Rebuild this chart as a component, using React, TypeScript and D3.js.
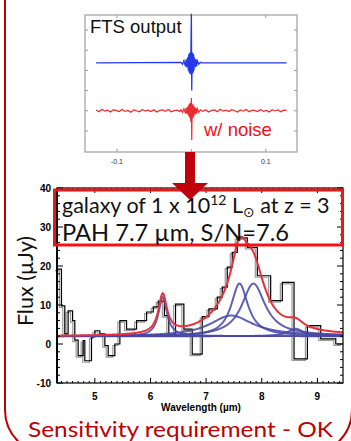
import React, { useEffect, useRef } from 'react';
import * as d3 from 'd3';

// top panel: FTS interferogram
const ftsSpan = [-0.128, 0.128];
const ftsTicks = [-0.1, 0, 0.1];
const ftsLevels = [0, 1, 2, 3, 4, 5];
const blueLevel = 3.37;
const redLevel = 1.0;
const burstX = [-0.014, -0.012, -0.01, -0.008, -0.007, -0.006, -0.005, -0.004, -0.0035, -0.003, -0.0025, -0.002, -0.0015, -0.001, -0.0005, 0, 0.0005, 0.001, 0.0015, 0.002, 0.0025, 0.003, 0.0035, 0.004, 0.005, 0.006, 0.007, 0.008, 0.01, 0.012, 0.014];
const blueBurst = [3.4, 3.3, 3.48, 3.2, 3.55, 3.15, 3.65, 3.0, 3.8, 2.9, 3.85, 2.85, 3.9, 2.8, 4.3, 5.8, 2.0, 3.9, 2.85, 3.85, 2.9, 3.8, 3.0, 3.65, 3.15, 3.55, 3.2, 3.48, 3.3, 3.4, 3.37];
const redBurst = [1.05, 0.92, 1.1, 0.88, 1.15, 0.84, 1.2, 0.78, 1.3, 0.7, 1.35, 0.65, 1.4, 0.6, 0.45, 1.63, -0.45, 1.35, 0.62, 1.3, 0.68, 1.25, 0.75, 1.2, 0.82, 1.15, 0.86, 1.1, 0.92, 1.05, 1.0];
const leftNoise = [0.04, -0.05, 0.07, -0.02, 0.03, -0.06, 0.05, 0.01, -0.04, 0.06, -0.03, 0.02, -0.07, 0.04, 0.0, -0.05, 0.06, -0.02, 0.03, -0.04, 0.05, -0.06, 0.02, 0.04, -0.03, 0.06, -0.05, 0.01, 0.03, -0.04];
const rightNoise = [-0.03, 0.05, -0.06, 0.02, 0.04, -0.05, 0.07, -0.02, 0.03, -0.04, 0.05, 0.0, -0.06, 0.04, -0.02, 0.06, -0.05, 0.03, 0.01, -0.04, 0.06, -0.03, 0.02, -0.06, 0.05, -0.01, 0.04, -0.05, 0.03, 0.02];

// bottom panel: simulated spectrum
const binEdges = [4.32, 4.40, 4.46, 4.52, 4.60, 4.64, 4.70, 4.79, 4.82, 4.94, 5.00, 5.09, 5.18, 5.24, 5.36, 5.45, 5.57, 5.75, 5.93, 6.05, 6.14, 6.25, 6.33, 6.45, 6.60, 6.75, 6.93, 7.05, 7.20, 7.29, 7.38, 7.47, 7.56, 7.74, 7.92, 8.16, 8.37, 8.58, 8.82, 9.06, 9.33, 9.46];
const binFlux = [19.2, 9.8, 2.6, 8.5, 6.0, 1.0, -3.0, 0.9, -4.3, 1.8, 3.4, 2.6, -0.4, -3.0, 0.0, 6.0, 3.8, 6.0, 8.2, 9.5, 11.0, 7.3, 2.5, 10.2, 3.8, -2.6, 7.0, 9.0, 12.0, 14.6, 19.7, 23.5, 27.2, 24.8, 17.5, 11.1, 15.8, -3.8, 4.7, 1.3, 0.0];
const pahCenter = [6.22, 7.45, 7.60, 7.85, 8.61];
const pahPeak = [10.0, 5.3, 13.5, 13.5, 1.9];
const pahFrac = [0.03, 0.126, 0.048, 0.065, 0.039];
const continuum = 2.0;
const fluxTicks = [-10, 0, 10, 20, 30, 40];
const waveTicks = [5, 6, 7, 8, 9];

const drude = (l: number, i: number) => {
  const c = pahCenter[i], g = pahFrac[i];
  const d = l / c - c / l;
  return pahPeak[i] * g * g / (d * d + g * g);
};

export default function App() {
  const ref = useRef<SVGSVGElement>(null);

  useEffect(() => {
    const svg = d3.select(ref.current);
    svg.selectAll('*').remove();
    const darkRed = '#c00000';

    // outer slide frame
    svg.append('rect').attr('x', 5).attr('y', -60).attr('width', 347).attr('height', 514)
      .attr('rx', 44).attr('fill', 'none').attr('stroke', darkRed).attr('stroke-width', 2);

    // ---- FTS panel
    const xF = d3.scaleLinear().domain([-0.143, 0.142]).range([85, 297]);
    const yF = d3.scaleLinear().domain([-1.04, 5.74]).range([152, 15]);
    const top = svg.append('g');
    top.append('rect').attr('x', 85).attr('y', 15).attr('width', 212).attr('height', 137)
      .attr('fill', '#fff').attr('stroke', '#a0a0a0').attr('stroke-width', 1.2);
    ftsLevels.forEach(v => {
      top.append('line').attr('x1', 85).attr('x2', 88).attr('y1', yF(v)).attr('y2', yF(v)).attr('stroke', '#999');
      top.append('line').attr('x1', 294).attr('x2', 297).attr('y1', yF(v)).attr('y2', yF(v)).attr('stroke', '#999');
    });
    ftsTicks.forEach(v => {
      top.append('line').attr('x1', xF(v)).attr('x2', xF(v)).attr('y1', 152).attr('y2', 149).attr('stroke', '#999');
      top.append('line').attr('x1', xF(v)).attr('x2', xF(v)).attr('y1', 15).attr('y2', 18).attr('stroke', '#999');
      top.append('text').attr('x', xF(v)).attr('y', 164).attr('text-anchor', 'middle')
        .style('font', '7px "Liberation Sans", Arial, sans-serif').attr('fill', '#333').text(String(v));
    });
    const fLine = d3.line<[number, number]>().x(d => xF(d[0])).y(d => yF(d[1]));
    const blue: [number, number][] = [[ftsSpan[0], blueLevel], ...burstX.map((x, i) => [x, blueBurst[i]] as [number, number]), [ftsSpan[1], blueLevel]];
    const wing = (arr: number[], a: number, b: number) =>
      arr.map((n, i) => [a + (b - a) * i / (arr.length - 1), redLevel + n] as [number, number]);
    const red: [number, number][] = [...wing(leftNoise, ftsSpan[0], -0.0155), ...burstX.map((x, i) => [x, redBurst[i]] as [number, number]), ...wing(rightNoise, 0.0155, ftsSpan[1])];
    top.append('path').attr('d', fLine(blue)).attr('fill', 'none').attr('stroke', '#2438f0').attr('stroke-width', 1.3);
    top.append('path').attr('d', fLine(red)).attr('fill', 'none').attr('stroke', '#ee2a2a').attr('stroke-width', 1.2);
    top.append('text').attr('x', 90).attr('y', 33).style('font', '18.5px "Liberation Sans", Arial, sans-serif')
      .attr('fill', '#111').text('FTS output');
    top.append('text').attr('x', 204).attr('y', 136).style('font', '18.5px "Liberation Sans", Arial, sans-serif')
      .attr('fill', '#f01010').text('w/ noise');

    // ---- spectrum panel
    const x = d3.scaleLinear().domain([4.32, 9.46]).range([57, 343]);
    const y = d3.scaleLinear().domain([-10, 40]).range([383, 188]);
    const g = svg.append('g');

    const steps: [number, number][] = binFlux.map((v, i) => [binEdges[i], v] as [number, number]);
    steps.push([binEdges[binEdges.length - 1], binFlux[binFlux.length - 1]]);
    const stepLine = d3.line<[number, number]>().x(d => x(d[0])).y(d => y(d[1])).curve(d3.curveStepAfter);
    g.append('path').attr('d', stepLine(steps)).attr('fill', 'none').attr('stroke', '#9a9a9a')
      .attr('stroke-width', 1.2).attr('transform', 'translate(-2,1.5)');
    g.append('path').attr('d', stepLine(steps)).attr('fill', 'none').attr('stroke', '#000').attr('stroke-width', 1.2);

    const grid = d3.range(4.32, 9.465, 0.01);
    const cLine = d3.line<number>().x(l => x(l)).y(() => y(continuum));
    g.append('path').attr('d', cLine(grid)).attr('fill', 'none').attr('stroke', '#7468b0').attr('stroke-width', 1.4);
    pahCenter.forEach((_, i) => {
      const comp = d3.line<number>().x(l => x(l)).y(l => y(continuum + drude(l, i)));
      g.append('path').attr('d', comp(grid)).attr('fill', 'none').attr('stroke', '#4646a6')
        .attr('stroke-width', 2).attr('stroke-opacity', 0.85);
    });
    const total = d3.line<number>().x(l => x(l))
      .y(l => y(continuum + pahCenter.reduce((s, _, i) => s + drude(l, i), 0)));
    g.append('path').attr('d', total(grid)).attr('fill', 'none').attr('stroke', '#e8303c').attr('stroke-width', 2);

    // frame + ticks
    g.append('rect').attr('x', 57).attr('y', 188).attr('width', 286).attr('height', 195)
      .attr('fill', 'none').attr('stroke', '#000').attr('stroke-width', 1.2);
    g.append('line').attr('x1', 57).attr('x2', 57).attr('y1', 188).attr('y2', 383).attr('stroke', '#000').attr('stroke-width', 2);
    d3.range(-10, 40.1, 2).forEach(v => {
      const len = v % 10 === 0 ? 6 : 3;
      g.append('line').attr('x1', 57).attr('x2', 57 + len).attr('y1', y(v)).attr('y2', y(v)).attr('stroke', '#000');
      g.append('line').attr('x1', 343).attr('x2', 343 - len).attr('y1', y(v)).attr('y2', y(v)).attr('stroke', '#000');
    });
    d3.range(4.4, 9.45, 0.1).forEach(v => {
      const major = Math.abs(v - Math.round(v)) < 0.01;
      const len = major ? 5 : 2;
      g.append('line').attr('x1', x(v)).attr('x2', x(v)).attr('y1', 383).attr('y2', 383 - len).attr('stroke', '#000');
      g.append('line').attr('x1', x(v)).attr('x2', x(v)).attr('y1', 188).attr('y2', 188 + len).attr('stroke', '#000');
    });
    fluxTicks.forEach(v => {
      g.append('text').attr('x', 51).attr('y', y(v) + 3.5).attr('text-anchor', 'end')
        .style('font', 'bold 10px "Liberation Sans", Arial, sans-serif').text(String(v));
    });
    waveTicks.forEach(v => {
      g.append('text').attr('x', x(v)).attr('y', 400).attr('text-anchor', 'middle')
        .style('font', 'bold 10px "Liberation Sans", Arial, sans-serif').text(String(v));
    });
    g.append('text').attr('x', 201).attr('y', 411).attr('text-anchor', 'middle')
      .style('font', 'bold 10px "Liberation Sans", Arial, sans-serif').text('Wavelength (\u00b5m)');
    g.append('text').attr('transform', 'translate(33,281) rotate(-90)').attr('text-anchor', 'middle')
      .style('font', '21.5px Lato, sans-serif').attr('fill', '#111').text('Flux (\u00b5Jy)');

    // annotation box
    svg.append('rect').attr('x', 54.5).attr('y', 190).attr('width', 288).attr('height', 55)
      .attr('fill', 'none').attr('stroke', '#f01414').attr('stroke-width', 3);

    // arrow between panels
    svg.append('path').attr('d', 'M185,152 L195,152 L195,183 L208,183 L190,200 L172,183 L185,183 Z')
      .attr('fill', '#c0000a');

    const t1 = svg.append('text').attr('x', 62).attr('y', 213).style('font', '21.5px Lato, sans-serif').attr('fill', '#111');
    t1.append('tspan').text('galaxy of 1 x 10');
    t1.append('tspan').attr('dy', -8).style('font-size', '14px').text('12');
    t1.append('tspan').attr('dy', 8).text(' L');
    t1.append('tspan').attr('dy', 4).style('font', '14px "DejaVu Sans", sans-serif').text('\u2299');
    t1.append('tspan').attr('dy', -4).text(' at z = 3');
    svg.append('text').attr('x', 62).attr('y', 241).style('font', '22.5px Lato, sans-serif').attr('fill', '#111')
      .attr('textLength', 227).attr('lengthAdjust', 'spacingAndGlyphs')
      .text('PAH 7.7 \u00b5m, S/N=7.6');

    svg.append('text').attr('x', 28).attr('y', 437)
      .attr('textLength', 305).attr('lengthAdjust', 'spacingAndGlyphs')
      .style('font', '22px Lato, sans-serif').attr('fill', darkRed).text('Sensitivity requirement - OK');
  }, []);

  return (
    <svg ref={ref} width={351} height={441}
      style={{ position: 'absolute', left: 0, top: 0, background: '#fff', display: 'block' }} />
  );
}
